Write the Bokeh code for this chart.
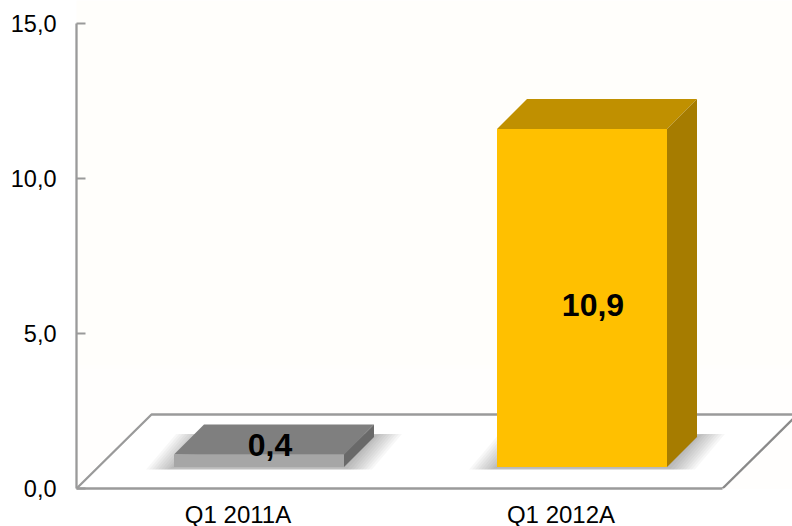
from bokeh.plotting import figure
from bokeh.embed import file_html
from bokeh.resources import INLINE
from bokeh.models import Range1d, FixedTicker
from bokeh.core.properties import value

categories = ["Q1 2011A", "Q1 2012A"]
values = [0.4, 10.9]
value_labels = ["0,4", "10,9"]
y_ticks = [0, 5, 10, 15]
y_tick_labels = ["0,0", "5,0", "10,0", "15,0"]
label_y = [1.39, 5.93]

front = ["#A6A6A6", "#FFC000"]
top = ["#7F7F7F", "#C09000"]
side = ["#696969", "#A67C00"]
AXIS = "#9A9A9A"
FONT = "Liberation Sans"

# scale helpers: one category = 323 px, one value unit = 31 px
PX = 1 / 323
PY = 1 / 31
bar_w = 170 * PX
bar_shift = 21 * PX
dx, dy = 30 * PX, 30 * PY
lift = 21.5 * PY
floor_dx, floor_dy = 75 * PX, 74 * PY

xs = list(range(len(categories)))

p = figure(width=792, height=526, frame_width=716, frame_height=488,
           output_backend="svg", toolbar_location=None,
           x_range=Range1d(-0.5, 1.5 + 70 * PX), y_range=Range1d(0, 488 * PY),
           min_border_left=76, min_border_right=0, min_border_top=0, min_border_bottom=0,
           outline_line_color=None, background_fill_color="#FFFEFB", border_fill_color="#FFFFFF")
p.grid.visible = False

# soft page tint fading to white towards the floor
for i in range(6):
    p.quad(left=-1, right=3, bottom=0, top=(4.0 - i * 0.12),
           fill_color="#FFFFFF", fill_alpha=0.3, line_color=None)

# floor
fl, fr = -0.5, 1.5
p.patch([fl, fl + floor_dx, fr + floor_dx, fr], [0, floor_dy, floor_dy, 0],
        fill_color="#FFFFFF", line_color=None)
p.line([fl, fl + floor_dx, fr + floor_dx], [0, floor_dy, floor_dy], line_color=AXIS, line_width=2.3)
p.line([fr, fr + floor_dx], [0, floor_dy], line_color="#8A8A8A", line_width=2.3)

# bars
for x, v, cf, ct, cs, ly, txt in zip(xs, values, front, top, side, label_y, value_labels):
    l = x + bar_shift - bar_w / 2
    r = l + bar_w
    b = lift
    t = lift + v
    # blurred shadow: nested parallelograms on the floor
    for k in range(14):
        e = 28 - 3 * k  # px of spread
        ey = min(e, 6)
        p.patch([l - e * PX, r + e * PX, r + dx + e * PX, l + dx - e * PX],
                [b - (ey * 0.4) * PY, b - (ey * 0.4) * PY, b + dy + ey * 0.5 * PY, b + dy + ey * 0.5 * PY],
                fill_color="#000000", fill_alpha=0.032, line_color=None)
    p.patch([l, l + dx, r + dx, r], [t, t + dy, t + dy, t], fill_color=ct, line_color=None)
    p.patch([r, r + dx, r + dx, r], [b, b + dy, t + dy, t], fill_color=cs, line_color=None)
    p.quad(left=l, right=r, bottom=b, top=t, fill_color=cf, line_color=None)
    p.text(x=[x + bar_shift + 11 * PX], y=[ly], text=[txt], text_align="center", text_baseline="middle",
           text_font=value(FONT), text_font_style="bold", text_font_size="32px", text_color="#000000")

# axes
ya = p.yaxis[0]
ya.ticker = FixedTicker(ticks=y_ticks)
ya.major_label_overrides = dict(zip(y_ticks, y_tick_labels))
ya.bounds = (0, 15)
ya.axis_line_color = AXIS
ya.axis_line_width = 2.3
ya.major_tick_line_color = AXIS
ya.major_tick_line_width = 2
ya.major_tick_in = 9
ya.major_tick_out = 0
ya.minor_tick_line_color = None
ya.major_label_standoff = 20
ya.major_label_text_font = FONT
ya.major_label_text_font_size = "23.5px"
ya.major_label_text_color = "#000000"

xa = p.xaxis[0]
xa.ticker = FixedTicker(ticks=xs)
xa.major_label_overrides = dict(zip(xs, categories))
xa.bounds = (-0.5, 1.5)
xa.axis_line_color = AXIS
xa.axis_line_width = 2.3
xa.major_tick_line_color = None
xa.minor_tick_line_color = None
xa.major_tick_in = 0
xa.major_tick_out = 0
xa.major_label_standoff = 12
xa.major_label_text_font = FONT
xa.major_label_text_font_size = "24px"
xa.major_label_text_color = "#000000"

open("out.html", "w").write(file_html(p, INLINE))
